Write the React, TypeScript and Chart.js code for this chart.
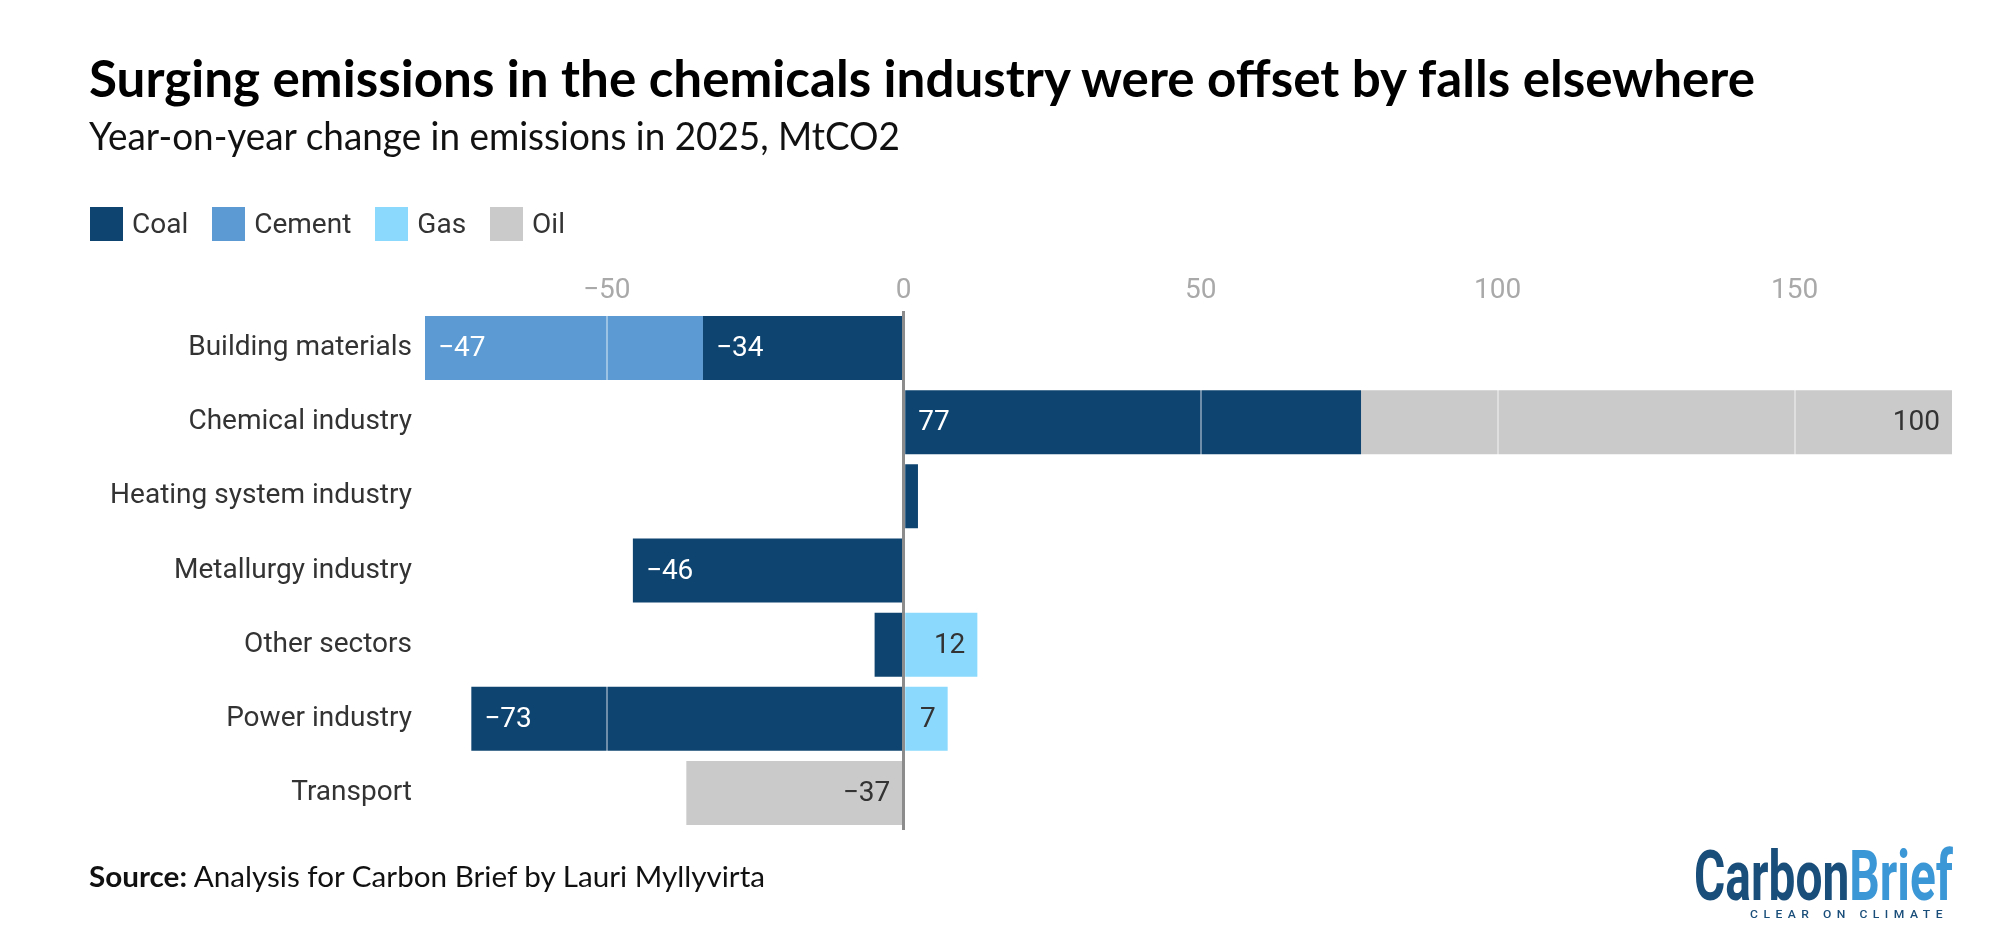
import React, { useEffect, useLayoutEffect, useRef } from "react";
import { Chart, registerables } from "chart.js";

Chart.register(...registerables);

const categories = [
  "Building materials",
  "Chemical industry",
  "Heating system industry",
  "Metallurgy industry",
  "Other sectors",
  "Power industry",
  "Transport",
];
const seriesNames = ["Coal", "Cement", "Gas", "Oil"];
const seriesColors = ["#0e4470", "#5b9ad2", "#8bdafe", "#cacaca"];
const darkSeries = [true, true, false, false];
const coal = [-33.8, 77, 2.4, -45.6, -4.9, -72.8, null];
const cement = [-46.8, null, null, null, null, null, null];
const gas = [null, null, null, null, 12.4, 7.4, null];
const oil = [null, 99.5, null, null, null, null, -36.6];
const seriesValues = [coal, cement, gas, oil];
const xTickStep = 50;

const titleText = "Surging emissions in the chemicals industry were offset by falls elsewhere";
const subtitleText = "Year-on-year change in emissions in 2025, MtCO2";

const fmt = (v: number) => String(Math.round(v)).replace("-", "\u2212");

function FitText(props: { target: number; style?: React.CSSProperties; children: React.ReactNode }) {
  const ref = useRef<HTMLSpanElement>(null);
  useLayoutEffect(() => {
    const fit = () => {
      const el = ref.current;
      if (!el) return;
      el.style.transform = "none";
      const w = el.getBoundingClientRect().width;
      if (w > 0) el.style.transform = `scaleX(${props.target / w})`;
    };
    fit();
    if ((document as any).fonts && (document as any).fonts.ready) {
      (document as any).fonts.ready.then(fit);
    }
  });
  return (
    <span
      ref={ref}
      style={{
        display: "inline-block",
        whiteSpace: "nowrap",
        transformOrigin: "left top",
        ...props.style,
      }}
    >
      {props.children}
    </span>
  );
}

const labelPlugin = {
  id: "barLabels",
  afterDraw(chart: any) {
    const ctx = chart.ctx;
    ctx.save();
    ctx.font = "28px Roboto";
    ctx.textBaseline = "middle";
    chart.data.datasets.forEach((ds: any, i: number) => {
      const meta = chart.getDatasetMeta(i);
      meta.data.forEach((bar: any, j: number) => {
        const v = ds.data[j];
        if (v == null || Math.abs(v) < 6) return;
        const left = Math.min(bar.x, bar.base);
        const right = Math.max(bar.x, bar.base);
        if (darkSeries[i]) {
          ctx.fillStyle = "#ffffff";
          ctx.textAlign = "left";
          ctx.fillText(fmt(v), left + 13, bar.y + 1);
        } else {
          ctx.fillStyle = "#333333";
          ctx.textAlign = "right";
          ctx.fillText(fmt(v), right - 12, bar.y + 1);
        }
      });
    });
    ctx.restore();
  },
};

export default function App() {
  const canvasRef = useRef<HTMLCanvasElement>(null);

  useEffect(() => {
    if (!canvasRef.current) return;
    const negSums = categories.map((_, j) =>
      seriesValues.reduce((s, arr) => s + (arr[j] != null && (arr[j] as number) < 0 ? (arr[j] as number) : 0), 0)
    );
    const posSums = categories.map((_, j) =>
      seriesValues.reduce((s, arr) => s + (arr[j] != null && (arr[j] as number) > 0 ? (arr[j] as number) : 0), 0)
    );
    const xMin = Math.min(...negSums);
    const xMax = Math.max(...posSums);

    const chart = new Chart(canvasRef.current, {
      type: "bar",
      data: {
        labels: categories,
        datasets: seriesNames.map((name, i) => ({
          label: name,
          data: seriesValues[i] as any,
          backgroundColor: seriesColors[i],
          borderWidth: 0,
          categoryPercentage: 1,
          barPercentage: 0.863,
        })),
      },
      options: {
        indexAxis: "y",
        responsive: false,
        animation: false,
        devicePixelRatio: 1,
        layout: { padding: { left: 0, top: 0, right: 48, bottom: 113 } },
        plugins: {
          legend: { display: false },
          tooltip: { enabled: false },
          title: { display: false },
        },
        scales: {
          x: {
            type: "linear",
            position: "top",
            stacked: true,
            min: xMin,
            max: xMax,
            border: { display: false },
            grid: {
              z: 1,
              drawTicks: false,
              color: (c: any) => (c.tick && c.tick.value === 0 ? "#8c8c8c" : "rgba(255,255,255,0.4)"),
              lineWidth: (c: any) => (c.tick && c.tick.value === 0 ? 3 : 2),
            },
            ticks: {
              stepSize: xTickStep,
              includeBounds: false,
              padding: 3,
              color: "#a9a9a9",
              font: { family: "Roboto", size: 28 },
              callback: (v: any) => String(v).replace("-", "\u2212"),
            },
            afterFit: (scale: any) => {
              scale.height = 311;
            },
          },
          y: {
            stacked: true,
            border: { display: false },
            grid: { display: false, drawTicks: false },
            ticks: {
              padding: 13,
              color: "#333333",
              font: { family: "Roboto", size: 28 },
            },
            afterFit: (scale: any) => {
              scale.width = 425;
            },
          },
        },
      },
      plugins: [labelPlugin],
    });
    return () => chart.destroy();
  }, []);

  return (
    <div style={{ position: "absolute", left: 0, top: 0, width: 2000, height: 943, background: "#fff", overflow: "hidden" }}>
      <canvas ref={canvasRef} width={2000} height={943} style={{ position: "absolute", left: 0, top: 0, width: 2000, height: 943 }} />
      <div style={{ position: "absolute", left: 89, top: 51, fontFamily: "Lato", fontWeight: 700, fontSize: 52, lineHeight: 1, color: "#000" }}>
        <FitText target={1666}>{titleText}</FitText>
      </div>
      <div style={{ position: "absolute", left: 89, top: 116, fontFamily: "Lato", fontWeight: 400, fontSize: 38, lineHeight: 1, color: "#111" }}>
        <FitText target={811}>{subtitleText}</FitText>
      </div>
      <div style={{ position: "absolute", left: 90, top: 207, height: 34, display: "flex", alignItems: "center", fontFamily: "Roboto", fontSize: 28, lineHeight: 1, color: "#333" }}>
        {seriesNames.map((name, i) => (
          <div key={name} style={{ display: "flex", alignItems: "center", marginRight: 24 }}>
            <div style={{ width: 33, height: 34, background: seriesColors[i], marginRight: 9 }} />
            <span>{name}</span>
          </div>
        ))}
      </div>
      <div style={{ position: "absolute", left: 89, top: 862, fontFamily: "Lato", fontSize: 28, lineHeight: 1, color: "#111" }}>
        <FitText target={676}>
          <b>Source:</b> Analysis for Carbon Brief by Lauri Myllyvirta
        </FitText>
      </div>
      <div style={{ position: "absolute", left: 1694, top: 841, fontFamily: "Roboto", fontWeight: 700, fontSize: 70, lineHeight: 1 }}>
        <FitText target={259}>
          <span style={{ color: "#1a4e7a" }}>Carbon</span>
          <span style={{ color: "#3c97d6" }}>Brief</span>
        </FitText>
      </div>
      <div style={{ position: "absolute", left: 1750, top: 909, fontFamily: "Roboto", fontWeight: 500, fontSize: 11, lineHeight: 1, color: "#1a4e7a", letterSpacing: 5 }}>
        <FitText target={198}>CLEAR ON CLIMATE</FitText>
      </div>
    </div>
  );
}
